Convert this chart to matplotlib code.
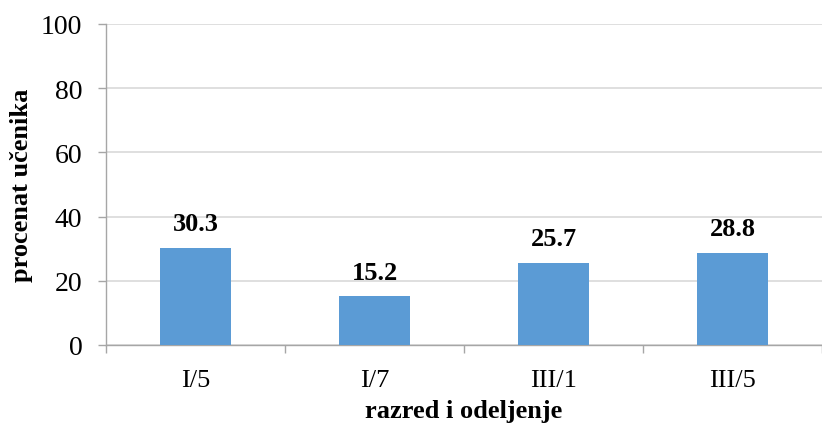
import matplotlib
matplotlib.use("Agg")
import matplotlib.pyplot as plt

categories = ["I/5", "I/7", "III/1", "III/5"]
values = [30.3, 15.2, 25.7, 28.8]
y_ticks = [0, 20, 40, 60, 80, 100]

plt.rcParams["font.family"] = ["Liberation Serif", "DejaVu Serif"]
FS = 19

fig = plt.figure(figsize=(8.22, 4.27), dpi=100)
ax = fig.add_axes([106 / 822, (427 - 346) / 427, 1 - 106 / 822, 321 / 427])

x = list(range(len(categories)))
bars = ax.bar(x, values, width=0.4, color="#5B9BD5", zorder=3)

for xi, v in zip(x, values):
    ax.annotate(f"{v:.1f}", (xi, v), xytext=(0, 9), textcoords="offset points",
                ha="center", va="bottom", fontsize=FS, fontweight="bold")

ax.set_ylim(0, 100)
ax.set_xlim(-0.5, 3.5 - 8 / 181)
ax.set_yticks(y_ticks)
ax.set_yticklabels([str(t) for t in y_ticks], fontsize=20)
ax.yaxis.grid(True, color="#D9D9D9", linewidth=1.2, zorder=0)

ax.set_xticks(x)
ax.set_xticklabels(categories, fontsize=FS)
ax.set_xticks([-0.5, 0.5, 1.5, 2.5, 3.5], minor=True)
ax.tick_params(axis="x", which="major", length=0, pad=17)
ax.tick_params(axis="x", which="minor", length=6, direction="out", color="#A6A6A6", width=1)
ax.tick_params(axis="y", length=6, direction="out", color="#A6A6A6", width=1, pad=11)

for side in ("top", "right"):
    ax.spines[side].set_visible(False)
for side in ("left", "bottom"):
    ax.spines[side].set_color("#A6A6A6")
    ax.spines[side].set_linewidth(1)

ax.set_ylabel("procenat učenika", fontsize=FS, fontweight="bold", labelpad=6)
ax.set_xlabel("razred i odeljenje", fontsize=FS, fontweight="bold", labelpad=6)

fig.savefig("out.png", dpi=100)
